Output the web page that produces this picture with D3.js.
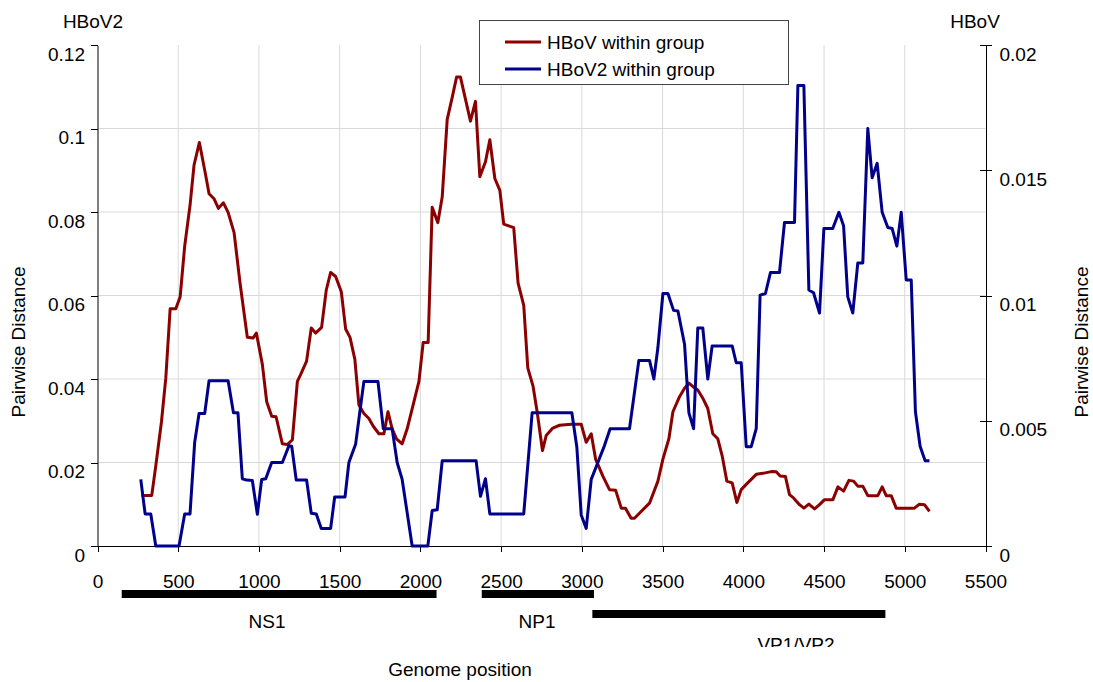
<!DOCTYPE html>
<html>
<head>
  <title>Pairwise distance along genome</title>
  <script src="https://cdnjs.cloudflare.com/ajax/libs/d3/7.8.5/d3.min.js"></script>
  <style>
    body { margin: 0; background: #fff; }
    text { font-family: "Liberation Sans", Arial, sans-serif; fill: #000; }
  </style>
</head>
<body>
  <svg width="1093" height="682"></svg>
  <script>
    // tick values
    const xTicks = [0, 500, 1000, 1500, 2000, 2500, 3000, 3500, 4000, 4500, 5000, 5500];
    const leftTicks = [0, 0.02, 0.04, 0.06, 0.08, 0.1, 0.12];
    const rightTicks = [0, 0.005, 0.01, 0.015, 0.02];

    // HBoV within group (right axis)
    const hbovPos = [272, 336, 361, 396, 423, 450, 485, 512, 540, 573, 598, 631, 670, 691, 722, 749, 780, 809, 846, 883,
      928, 963, 984, 1021, 1048, 1079, 1106, 1145, 1176, 1207, 1238, 1258, 1295, 1324, 1351, 1388, 1417, 1444, 1475, 1510,
      1537, 1564, 1594, 1619, 1650, 1681, 1708, 1743, 1774, 1799, 1825, 1852, 1887, 1918, 1955, 1991, 2017, 2048, 2073, 2108,
      2135, 2166, 2197, 2224, 2248, 2279, 2310, 2341, 2368, 2403, 2430, 2461, 2492, 2516, 2547, 2578, 2605, 2640, 2665, 2698,
      2723, 2756, 2779, 2820, 2862, 2934, 2996, 3027, 3058, 3085, 3130, 3171, 3209, 3244, 3270, 3305, 3326, 3367, 3419, 3471,
      3502, 3539, 3564, 3605, 3636, 3663, 3687, 3718, 3749, 3780, 3811, 3842, 3869, 3898, 3931, 3960, 3987, 4018, 4049, 4080,
      4121, 4173, 4204, 4228, 4261, 4286, 4311, 4348, 4375, 4406, 4441, 4472, 4503, 4555, 4586, 4621, 4654, 4683, 4709, 4740,
      4771, 4833, 4860, 4885, 4916, 4947, 5060, 5091, 5122, 5153];
    const hbovVal = [0.00202, 0.00202, 0.0032, 0.00495, 0.0067, 0.00947, 0.00947, 0.00995, 0.01197, 0.01359, 0.01521, 0.01611,
      0.0148, 0.01406, 0.01386, 0.01348, 0.0137, 0.01332, 0.01251, 0.01049, 0.00833, 0.0083, 0.0085, 0.00725, 0.00576, 0.00518,
      0.00516, 0.00408, 0.00405, 0.00424, 0.00657, 0.00684, 0.00738, 0.0087, 0.0085, 0.00873, 0.01022, 0.01092, 0.01076, 0.01015,
      0.00866, 0.00833, 0.00745, 0.00563, 0.00529, 0.00509, 0.00478, 0.00448, 0.00448, 0.00536, 0.00468, 0.00428, 0.00408, 0.00468,
      0.00563, 0.00657, 0.00812, 0.00812, 0.01352, 0.01291, 0.01393, 0.01703, 0.01791, 0.01872, 0.01872, 0.01784, 0.01696, 0.01775,
      0.01474, 0.01534, 0.01622, 0.01467, 0.0142, 0.01285, 0.01278, 0.01271, 0.01049, 0.00961, 0.00711, 0.00637, 0.00536, 0.00381,
      0.00441, 0.00471, 0.00482, 0.00486, 0.00486, 0.00414, 0.00448, 0.00347, 0.00279, 0.00225, 0.00223, 0.00151, 0.00151, 0.00111,
      0.00111, 0.00138, 0.00171, 0.00259, 0.00347, 0.00428, 0.00536, 0.00596, 0.0063, 0.0065, 0.00637, 0.00623, 0.0059, 0.00549,
      0.00448, 0.00428, 0.0036, 0.00259, 0.00252, 0.00174, 0.00225, 0.00246, 0.00266, 0.00286, 0.0029, 0.00297, 0.00296, 0.00279,
      0.00277, 0.00205, 0.00192, 0.00165, 0.00151, 0.00167, 0.00148, 0.00165, 0.00185, 0.00185, 0.00236, 0.00219, 0.00262, 0.00259,
      0.00239, 0.00239, 0.00201, 0.00201, 0.00236, 0.00201, 0.00201, 0.00151, 0.00151, 0.00167, 0.00165, 0.00138];

    // HBoV2 within group (left axis)
    const hbov2Pos = [268, 295, 330, 361, 505, 540, 573, 602, 629, 664, 691, 809, 842, 870, 897, 924, 959, 990, 1017, 1042,
      1079, 1145, 1186, 1203, 1231, 1295, 1324, 1355, 1386, 1444, 1469, 1533, 1557, 1599, 1625, 1650, 1737, 1770, 1825, 1856,
      1887, 1949, 2046, 2073, 2104, 2135, 2345, 2372, 2403, 2430, 2640, 2692, 2938, 2969, 2996, 3027, 3058, 3099, 3140, 3175,
      3295, 3353, 3419, 3446, 3471, 3502, 3533, 3568, 3595, 3636, 3663, 3692, 3718, 3749, 3780, 3807, 3931, 3956, 3987, 4018,
      4049, 4080, 4104, 4137, 4168, 4224, 4255, 4317, 4338, 4375, 4406, 4435, 4472, 4499, 4554, 4592, 4621, 4647, 4678, 4709,
      4740, 4771, 4798, 4829, 4860, 4895, 4922, 4951, 4978, 5009, 5040, 5066, 5095, 5126, 5153];
    const hbov2Val = [0.01595, 0.00769, 0.00769, 0, 0, 0.00769, 0.00769, 0.02486, 0.03174, 0.03174, 0.0396, 0.0396, 0.0319,
      0.0319, 0.01611, 0.01579, 0.01571, 0.00761, 0.01595, 0.01611, 0.02, 0.02, 0.02405, 0.02389, 0.01579, 0.01579, 0.00785,
      0.00769, 0.00421, 0.00421, 0.01174, 0.01174, 0.02, 0.02445, 0.03215, 0.03943, 0.03943, 0.0281, 0.0281, 0.02, 0.01595, 0, 0,
      0.0085, 0.00866, 0.0204, 0.0204, 0.0119, 0.01611, 0.00769, 0.00769, 0.0319, 0.0319, 0.02364, 0.00745, 0.00421, 0.01595,
      0.02, 0.02405, 0.0281, 0.0281, 0.04445, 0.04445, 0.04, 0.04753, 0.06048, 0.06048, 0.05644, 0.05627, 0.04834, 0.0319, 0.0281,
      0.05223, 0.05223, 0.04, 0.04793, 0.04793, 0.04389, 0.04389, 0.0238, 0.0238, 0.0281, 0.06008, 0.06048, 0.0655, 0.0655,
      0.07749, 0.07749, 0.11028, 0.11028, 0.0613, 0.06065, 0.05579, 0.07603, 0.07603, 0.07992, 0.07668, 0.05967, 0.05579, 0.06777,
      0.06777, 0.1, 0.08818, 0.09166, 0.07992, 0.07627, 0.07603, 0.07182, 0.07992, 0.06372, 0.06372, 0.03215, 0.02389, 0.0204, 0.0204];

    // genes drawn under the axis
    const geneNames = ['NS1', 'NP1', 'VP1/VP2'];
    const geneStart = [150, 2380, 3065];
    const geneEnd = [2100, 3075, 4880];

    const svg = d3.select('svg');
    const x = d3.scaleLinear().domain([0, 5500]).range([97.5, 985.5]);
    const yL = d3.scaleLinear().domain([0, 0.12]).range([546, 45]);
    const yR = d3.scaleLinear().domain([0, 0.02]).range([546, 45]);
    const fs = 19;

    // grid
    const grid = svg.append('g');
    grid.selectAll('.vg')
      .data(xTicks.slice(1, -1))
      .enter()
      .append('line')
      .attr('x1', d => x(d)).attr('x2', d => x(d))
      .attr('y1', yL(0.12)).attr('y2', yL(0))
      .style('stroke', '#d9d9d9');
    grid.selectAll('.hg')
      .data(leftTicks.slice(1, -1))
      .enter()
      .append('line')
      .attr('x1', x(0)).attr('x2', x(5500))
      .attr('y1', d => yL(d)).attr('y2', d => yL(d))
      .style('stroke', '#d9d9d9');

    // axes
    const left = svg.append('g')
      .attr('transform', `translate(${x(0)},0)`)
      .call(d3.axisLeft(yL).tickValues(leftTicks).tickFormat(d => d).tickSize(7).tickSizeOuter(0).tickPadding(5.5));
    left.select('.domain').style('stroke', '#808080').style('stroke-width', 1.5);

    const right = svg.append('g')
      .attr('transform', `translate(${x(5500)},0)`)
      .call(d3.axisRight(yR).tickValues(rightTicks).tickFormat(d => d).tickSize(6).tickSizeOuter(0).tickPadding(8));
    right.selectAll('.tick line').attr('x1', -6);

    const bottom = svg.append('g')
      .attr('transform', `translate(0,${yL(0)})`)
      .call(d3.axisBottom(x).tickValues(xTicks).tickFormat(d => d).tickSize(6).tickSizeOuter(0));

    svg.selectAll('.tick text').style('font-size', fs + 'px').style('font-family', '"Liberation Sans", Arial, sans-serif');
    left.selectAll('.tick text').attr('dy', 15);
    right.selectAll('.tick text').attr('dy', 15);
    bottom.selectAll('.tick text').attr('y', 42).attr('dy', 0);
    svg.selectAll('.domain, .tick line').style('shape-rendering', 'crispEdges');

    // series
    const redLine = d3.line().x(d => x(d[0])).y(d => yR(d[1]));
    const blueLine = d3.line().x(d => x(d[0])).y(d => yL(d[1]));

    svg.append('path')
      .datum(d3.zip(hbovPos, hbovVal))
      .attr('d', redLine)
      .style('fill', 'none')
      .style('stroke', '#8b0000')
      .style('stroke-width', 3)
      .style('stroke-linejoin', 'round');

    svg.append('path')
      .datum(d3.zip(hbov2Pos, hbov2Val))
      .attr('d', blueLine)
      .style('fill', 'none')
      .style('stroke', '#00008b')
      .style('stroke-width', 3)
      .style('stroke-linejoin', 'round');

    // axis titles
    svg.append('text').attr('x', 93).attr('y', 28).attr('text-anchor', 'middle').style('font-size', fs + 'px').text('HBoV2');
    svg.append('text').attr('x', 975).attr('y', 28).attr('text-anchor', 'middle').style('font-size', fs + 'px').text('HBoV');
    svg.append('text')
      .attr('transform', 'translate(25,342) rotate(-90)')
      .attr('text-anchor', 'middle')
      .style('font-size', fs + 'px')
      .text('Pairwise Distance');
    svg.append('text')
      .attr('transform', 'translate(1088,342) rotate(-90)')
      .attr('text-anchor', 'middle')
      .style('font-size', fs + 'px')
      .text('Pairwise Distance');
    svg.append('text').attr('x', 460).attr('y', 676).attr('text-anchor', 'middle').style('font-size', fs + 'px').text('Genome position');

    // genes
    const geneY = [594, 594, 614];
    const labelY = [628, 628, 651];
    svg.append('clipPath').attr('id', 'cut')
      .append('rect').attr('x', 0).attr('y', 0).attr('width', 1093).attr('height', 647);
    geneNames.forEach((g, i) => {
      svg.append('line')
        .attr('x1', x(geneStart[i])).attr('x2', x(geneEnd[i]))
        .attr('y1', geneY[i]).attr('y2', geneY[i])
        .style('stroke', '#000')
        .style('stroke-width', 8);
    });
    svg.selectAll('.gene')
      .data(geneNames)
      .enter()
      .append('text')
      .attr('x', (d, i) => i === 2 ? 796 : (i === 0 ? 267 : 537))
      .attr('y', (d, i) => labelY[i])
      .attr('text-anchor', 'middle')
      .attr('clip-path', (d, i) => i === 2 ? 'url(#cut)' : null)
      .style('font-size', fs + 'px')
      .text(d => d);

    // legend
    const legend = svg.append('g');
    legend.append('rect')
      .attr('x', 479).attr('y', 20).attr('width', 309).attr('height', 64)
      .style('fill', '#fff')
      .style('stroke', '#444')
      .style('shape-rendering', 'crispEdges');
    const legNames = ['HBoV within group', 'HBoV2 within group'];
    const legColors = ['#8b0000', '#00008b'];
    legNames.forEach((n, i) => {
      const ly = 42 + i * 27;
      legend.append('line')
        .attr('x1', 505).attr('x2', 541).attr('y1', ly).attr('y2', ly)
        .style('stroke', legColors[i]).style('stroke-width', 3);
      legend.append('text')
        .attr('x', 547).attr('y', ly + 7)
        .style('font-size', fs + 'px')
        .text(n);
    });
  </script>
</body>
</html>
